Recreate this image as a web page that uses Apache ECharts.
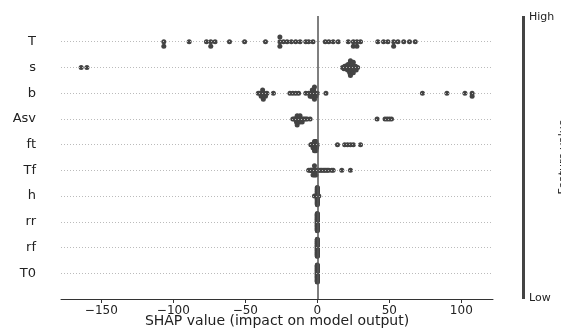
<!DOCTYPE html>
<html>
<head>
<meta charset="utf-8">
<script src="https://cdn.jsdelivr.net/npm/echarts@6/dist/echarts.min.js"></script>
<style>
  html, body { margin: 0; padding: 0; background: #fff; }
  #chart { width: 561px; height: 328px; }
</style>
</head>
<body>
<div id="chart"></div>
<script>
// feature names, top to bottom
const features = ['T', 's', 'b', 'Asv', 'ft', 'Tf', 'h', 'rr', 'rf', 'T0'];

// SHAP values per feature
const shapT = [-106.6, -106.6, -89, -77, -74, -74, -71, -61, -50.5, -36, -26, -26, -26,
  -23.5, -21, -18, -15, -12, -8, -6, -3, 5.5, 8, 11, 14.5, 21.5, 25, 25, 27.5, 27.5,
  30, 42, 46, 49, 53, 53, 56, 60, 64, 68];
const shapS = [-164, -160, 17.5, 18.5, 19, 19.5, 20, 20.5, 21, 21, 21.5, 21.5, 22, 22, 22,
  22.5, 22.5, 22.5, 23, 23, 23, 23, 23.5, 23.5, 24, 24, 24, 24.5, 24.5, 25, 25, 25.5,
  26, 26.5, 27, 28];
const shapB = [-41, -40, -39, -38.5, -38, -38, -37.5, -37, -36, -35, -30.5, -19, -17, -15,
  -13, -8, -6, -5, -4.5, -4, -3.5, -3, -3, -2.5, -2, -2, -1.5, -1, 0, 6, 73, 90, 102.5,
  107.5, 107.5];
const shapAsv = [-17, -16, -15.5, -15, -14.5, -14.5, -14, -14, -13.5, -13, -13, -12.5, -12,
  -12, -11.5, -11, -10.5, -10, -9, -8, -7, -5, 41.5, 47, 48.5, 50, 51.5];
const shapFt = [-4.5, -4, -3.5, -3, -3, -2.5, -2.5, -2, -2, -2, -2, -1.5, -1.5, -1.5, -1,
  -1, -1, -1, -0.5, -0.5, 0, 14, 19, 21, 23, 25, 30];
const shapTf = [-6, -5, -4.5, -4, -3.5, -3, -3, -2.5, -2, -2, -2, -1.5, -1, -1, -0.5, 0,
  0.5, 1, 2, 3, 4, 5, 6, 7, 8, 10, 11, 17, 23];
const shapH = [-2, -0.5, 0, 0, 0, 0, 0, 0, 0, 0, 0, 0, 0, 0, 0, 0, 0, 0, 0, 0, 0, 0, 0, 0,
  0, 0, 0, 0, 0, 0, 0, 0.5, 1];
const shapRr = [0, 0, 0, 0, 0, 0, 0, 0, 0, 0, 0, 0, 0, 0, 0, 0, 0, 0, 0, 0, 0, 0, 0, 0, 0,
  0, 0, 0, 0, 0, 0, 0, 0, 0, 0, 0, 0, 0, 0, 0];
const shapRf = [0, 0, 0, 0, 0, 0, 0, 0, 0, 0, 0, 0, 0, 0, 0, 0, 0, 0, 0, 0, 0, 0, 0, 0, 0,
  0, 0, 0, 0, 0, 0, 0, 0, 0, 0, 0, 0, 0, 0, 0];
const shapT0 = [0, 0, 0, 0, 0, 0, 0, 0, 0, 0, 0, 0, 0, 0, 0, 0, 0, 0, 0, 0, 0, 0, 0, 0, 0,
  0, 0, 0, 0, 0, 0, 0, 0, 0, 0, 0, 0, 0, 0, 0];

const xTicks = [-150, -100, -50, 0, 50, 100];

const allShap = [shapT, shapS, shapB, shapAsv, shapFt, shapTf, shapH, shapRr, shapRf, shapT0];

// beeswarm layout like shap: bin the values, stack points in the same bin
function swarm(vals, row) {
  const lo = Math.min(...vals), hi = Math.max(...vals);
  const q = vals.map(v => Math.round(100 * (v - lo) / (hi - lo + 1e-8)));
  const order = vals.map((_, i) => i).sort((a, b) => q[a] - q[b] || a - b);
  const ys = new Array(vals.length).fill(0);
  let layer = 0, last = -1;
  order.forEach(i => {
    if (q[i] !== last) layer = 0;
    ys[i] = Math.ceil(layer / 2) * ((layer % 2) * 2 - 1);
    layer++;
    last = q[i];
  });
  const m = Math.max(...ys.map(y => y + 1));
  const k = 0.9 * (0.4 / m);
  return vals.map((v, i) => [v, row + ys[i] * k]);
}

const points = [];
allShap.forEach((vals, row) => points.push(...swarm(vals, row)));

const chart = echarts.init(document.getElementById('chart'));

const gridLines = features.map((_, i) => ({
  yAxis: i,
  lineStyle: { color: '#bbbbbb', type: [1, 2], width: 1 }
}));

chart.setOption({
  animation: false,
  grid: { left: 61, right: 68, top: 16, bottom: 29, outerBoundsMode: 'none', containLabel: false },
  xAxis: {
    type: 'value',
    min: -178,
    max: 122,
    name: 'SHAP value (impact on model output)',
    nameLocation: 'middle',
    nameGap: 15,
    nameMoveOverlap: false,
    nameTextStyle: { fontFamily: 'DejaVu Sans', fontSize: 14, color: '#222', verticalAlign: 'top' },
    axisLine: { show: true, onZero: false, lineStyle: { color: '#333', width: 1 } },
    axisTick: { show: true, length: 4, customValues: xTicks, lineStyle: { color: '#333' } },
    axisLabel: {
      customValues: xTicks,
      margin: 6,
      fontFamily: 'DejaVu Sans',
      fontSize: 12,
      color: '#222',
      formatter: v => (v < 0 ? '\u2212' + Math.abs(v) : String(v))
    },
    splitLine: { show: false }
  },
  yAxis: {
    type: 'value',
    min: -1,
    max: 10,
    interval: 1,
    inverse: true,
    axisLine: { show: false },
    axisTick: { show: false },
    splitLine: { show: false },
    axisLabel: {
      margin: 25,
      fontFamily: 'DejaVu Sans',
      fontSize: 13,
      color: '#222',
      formatter: v => features[v] || ''
    }
  },
  series: [{
    type: 'scatter',
    data: points,
    symbolSize: 5,
    itemStyle: { color: '#444', opacity: 1 },
    markLine: {
      silent: true,
      symbol: 'none',
      label: { show: false },
      data: gridLines.concat([{ xAxis: 0, lineStyle: { color: '#555', type: 'solid', width: 1.5 } }])
    }
  }],
  graphic: [
    { type: 'rect', shape: { x: 522, y: 16, width: 3, height: 283 }, style: { fill: '#444' } },
    { type: 'text', x: 529, y: 17, style: { text: 'High', fontFamily: 'DejaVu Sans', fontSize: 11, fill: '#222', verticalAlign: 'middle' } },
    { type: 'text', x: 529, y: 298, style: { text: 'Low', fontFamily: 'DejaVu Sans', fontSize: 11, fill: '#222', verticalAlign: 'middle' } },
    { type: 'text', x: 563, y: 157, rotation: Math.PI / 2, style: { text: 'Feature value', fontFamily: 'DejaVu Sans', fontSize: 11, fill: '#222', align: 'center', verticalAlign: 'middle' } }
  ]
});
</script>
</body>
</html>
